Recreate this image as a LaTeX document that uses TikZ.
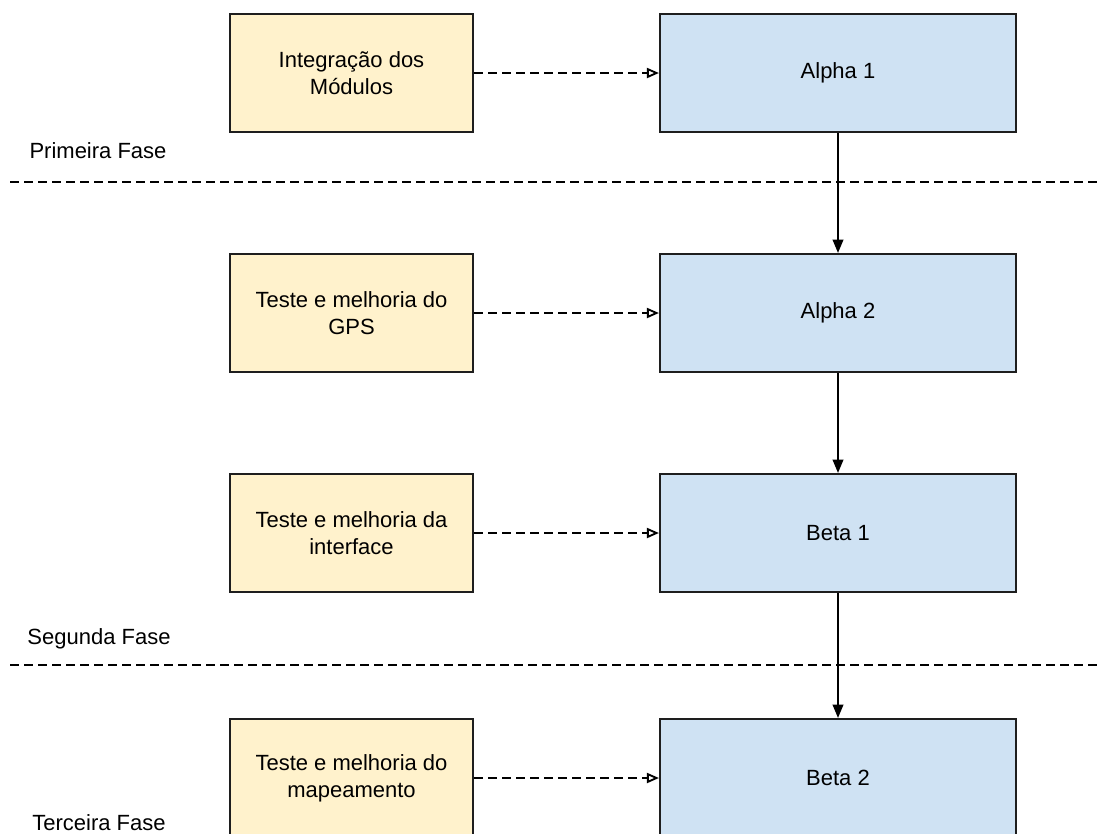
\documentclass[tikz,border=0pt]{standalone}
\usepackage{fontspec}
\setmainfont{Liberation Sans}
\usetikzlibrary{arrows.meta}

\definecolor{taskfill}{HTML}{FFF2CC}
\definecolor{releasefill}{HTML}{CFE2F3}
\definecolor{edgegray}{HTML}{1E1E1E}

\tikzset{
  box/.style={draw=edgegray, line width=1.6pt, rectangle, align=center,
    font=\fontsize{16.5}{20}\selectfont, inner sep=0pt},
  taskbox/.style={box, fill=taskfill, minimum width=243*0.75pt, minimum height=118*0.75pt},
  releasebox/.style={box, fill=releasefill, minimum width=356*0.75pt, minimum height=118*0.75pt},
  dashline/.style={line width=1.4pt, dash pattern=on 6.75pt off 3.75pt},
  feeds/.style={dashline, -{Triangle[open, length=9pt, width=7.5pt]}},
  next/.style={line width=1.3pt, -{Triangle[length=10pt, width=8pt]}},
  phaselabel/.style={anchor=base, font=\fontsize{16.5}{20}\selectfont, inner sep=0pt}
}

\begin{document}
\begin{tikzpicture}[x=0.75pt, y=-0.75pt]
  \useasboundingbox (0,0) rectangle (1102,833);

  % phase separators
  \coordinate (s1a) at (10,182);
  \coordinate (s1b) at (1097,182);
  \coordinate (s2a) at (10,665);
  \coordinate (s2b) at (1097,665);
  \draw[dashline] (s1a) -- (s1b);
  \draw[dashline] (s2a) -- (s2b);

  % phase labels
  \node[phaselabel] (p1) at (98,158) {Primeira Fase};
  \node[phaselabel] (p2) at (99,644) {Segunda Fase};
  \node[phaselabel] (p3) at (99,830) {Terceira Fase};

  % work items
  \node[taskbox] (t1) at (351.5,73)  {Integração dos\\Módulos};
  \node[taskbox] (t2) at (351.5,313) {Teste e melhoria do\\GPS};
  \node[taskbox] (t3) at (351.5,533) {Teste e melhoria da\\interface};
  \node[taskbox] (t4) at (351.5,778) {Teste e melhoria do\\mapeamento};

  % releases
  \node[releasebox] (r1) at (838,73)  {Alpha 1};
  \node[releasebox] (r2) at (838,313) {Alpha 2};
  \node[releasebox] (r3) at (838,533) {Beta 1};
  \node[releasebox] (r4) at (838,778) {Beta 2};

  % each work item feeds its release
  \draw[feeds] (t1) -- (r1);
  \draw[feeds] (t2) -- (r2);
  \draw[feeds] (t3) -- (r3);
  \draw[feeds] (t4) -- (r4);

  % release sequence
  \draw[next] (r1) -- (r2);
  \draw[next] (r2) -- (r3);
  \draw[next] (r3) -- (r4);
\end{tikzpicture}
\end{document}
